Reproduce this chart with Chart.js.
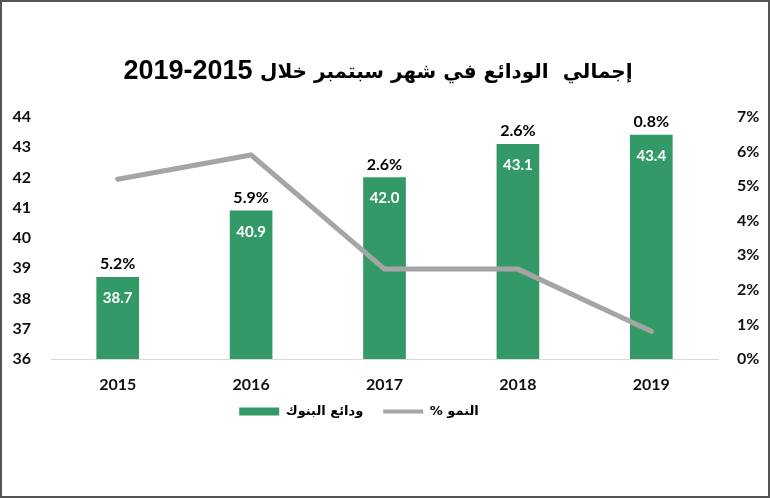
<!DOCTYPE html>
<html>
<head>
<meta charset="utf-8">
<script src="https://cdn.jsdelivr.net/npm/chart.js@4.4.1/dist/chart.umd.min.js"></script>
<style>
html,body{margin:0;padding:0;background:#fff;}
#wrap{width:770px;height:498px;position:relative;}
</style>
</head>
<body>
<div id="wrap"><canvas id="c" width="770" height="498"></canvas></div>
<script>
const categories = ['2015', '2016', '2017', '2018', '2019'];
const deposits = [38.7, 40.9, 42.0, 43.1, 43.4];
const growth = [5.2, 5.9, 2.6, 2.6, 0.8];
const depositsLabel = 'ودائع البنوك';
const growthLabel = '% النمو';
const titleArabic = 'إجمالي  الودائع في شهر سبتمبر خلال';
const titleYears = '2019-2015';

const NUM_FONT = "Lato, 'DejaVu Sans', sans-serif";
const AR_FONT = "'DejaVu Sans', sans-serif";
const LAT_FONT = "'Liberation Sans', Arial, sans-serif";
const GREEN = '#339966';
const GRAY = '#a5a5a5';

const labelPlugin = {
  id: 'labels',
  afterDatasetsDraw(chart) {
    const ctx = chart.ctx;
    const meta = chart.getDatasetMeta(0);
    ctx.save();
    ctx.textAlign = 'center';
    ctx.textBaseline = 'middle';
    meta.data.forEach((bar, i) => {
      ctx.font = "bold 15px " + NUM_FONT;
      ctx.fillStyle = '#ffffff';
      ctx.fillText(deposits[i].toFixed(1), bar.x, bar.y + 21);
      ctx.font = "bold 16px " + NUM_FONT;
      ctx.fillStyle = '#000000';
      ctx.fillText(growth[i].toFixed(1) + '%', bar.x, bar.y - 13);
    });
    ctx.restore();
  },
  afterDraw(chart) {
    const ctx = chart.ctx;
    ctx.save();
    // title: two runs (Latin digits + Arabic)
    const cy = 72, cx = 378;
    ctx.textBaseline = 'middle';
    ctx.fillStyle = '#000';
    ctx.font = "bold 27px " + LAT_FONT;
    const wNum = ctx.measureText(titleYears).width;
    const wSp = ctx.measureText(' ').width;
    ctx.font = "bold 20px " + AR_FONT;
    ctx.direction = 'rtl';
    const wAr = ctx.measureText(titleArabic).width;
    const total = wNum + wSp + wAr;
    const x0 = cx - total / 2;
    ctx.textAlign = 'right';
    ctx.fillText(titleArabic, x0 + total, cy + 1);
    ctx.direction = 'ltr';
    ctx.textAlign = 'left';
    ctx.font = "bold 27px " + LAT_FONT;
    ctx.fillText(titleYears, x0, cy);
    // outer frame
    ctx.strokeStyle = '#555555';
    ctx.lineWidth = 2;
    ctx.strokeRect(1, 1, chart.width - 2, chart.height - 2);
    ctx.restore();
  }
};

new Chart(document.getElementById('c'), {
  type: 'bar',
  data: {
    labels: categories,
    datasets: [
      {
        type: 'bar',
        label: depositsLabel,
        data: deposits,
        backgroundColor: GREEN,
        borderWidth: 0,
        barThickness: 42,
        yAxisID: 'y',
        order: 2
      },
      {
        type: 'line',
        label: growthLabel,
        data: growth,
        borderColor: GRAY,
        backgroundColor: GRAY,
        borderWidth: 5,
        pointRadius: 0,
        tension: 0,
        borderCapStyle: 'round',
        yAxisID: 'y1',
        order: 1
      }
    ]
  },
  options: {
    responsive: false,
    animation: false,
    layout: { padding: { left: 12, right: 10, top: 117, bottom: 54 } },
    plugins: {
      title: { display: false },
      legend: {
        position: 'bottom',
        labels: {
          usePointStyle: true,
          pointStyleWidth: 40,
          boxHeight: 8,
          padding: 20,
          color: '#000',
          font: { family: AR_FONT, size: 13, weight: 'bold' },
          sort: (a, b) => a.datasetIndex - b.datasetIndex,
          generateLabels(chart) {
            const items = Chart.defaults.plugins.legend.labels.generateLabels(chart);
            items.forEach(it => {
              if (it.datasetIndex === 0) {
                it.pointStyle = 'rect';
                it.fillStyle = GREEN;
                it.strokeStyle = GREEN;
                it.lineWidth = 0;
              } else {
                it.pointStyle = 'line';
                it.strokeStyle = GRAY;
                it.lineWidth = 4;
              }
            });
            return items;
          }
        }
      },
      tooltip: { enabled: false }
    },
    scales: {
      x: {
        grid: { display: false, drawTicks: false },
        border: { display: true, color: '#d9d9d9', width: 1 },
        ticks: { color: '#111', font: { family: NUM_FONT, size: 16, weight: 'bold' }, padding: 16 },
        afterFit(s) { s.height = 42; }
      },
      y: {
        position: 'left',
        min: 36, max: 44,
        grid: { display: false, drawTicks: false },
        border: { display: false },
        ticks: { stepSize: 1, color: '#111', font: { family: NUM_FONT, size: 16, weight: 'bold' }, padding: 20 },
        afterFit(s) { s.width = 39; }
      },
      y1: {
        position: 'right',
        min: 0, max: 7,
        grid: { display: false, drawTicks: false },
        border: { display: false },
        ticks: { stepSize: 1, color: '#111', font: { family: NUM_FONT, size: 16, weight: 'bold' }, padding: 19,
                 callback: v => v + '%' },
        afterFit(s) { s.width = 42; }
      }
    }
  },
  plugins: [labelPlugin, {
    id: 'legendShift',
    afterLayout(chart) {
      const lg = chart.legend;
      if (lg) { lg.left -= 27; lg.right -= 27; lg.top -= 16; lg.bottom -= 16; }
    }
  }]
});
</script>
</body>
</html>
